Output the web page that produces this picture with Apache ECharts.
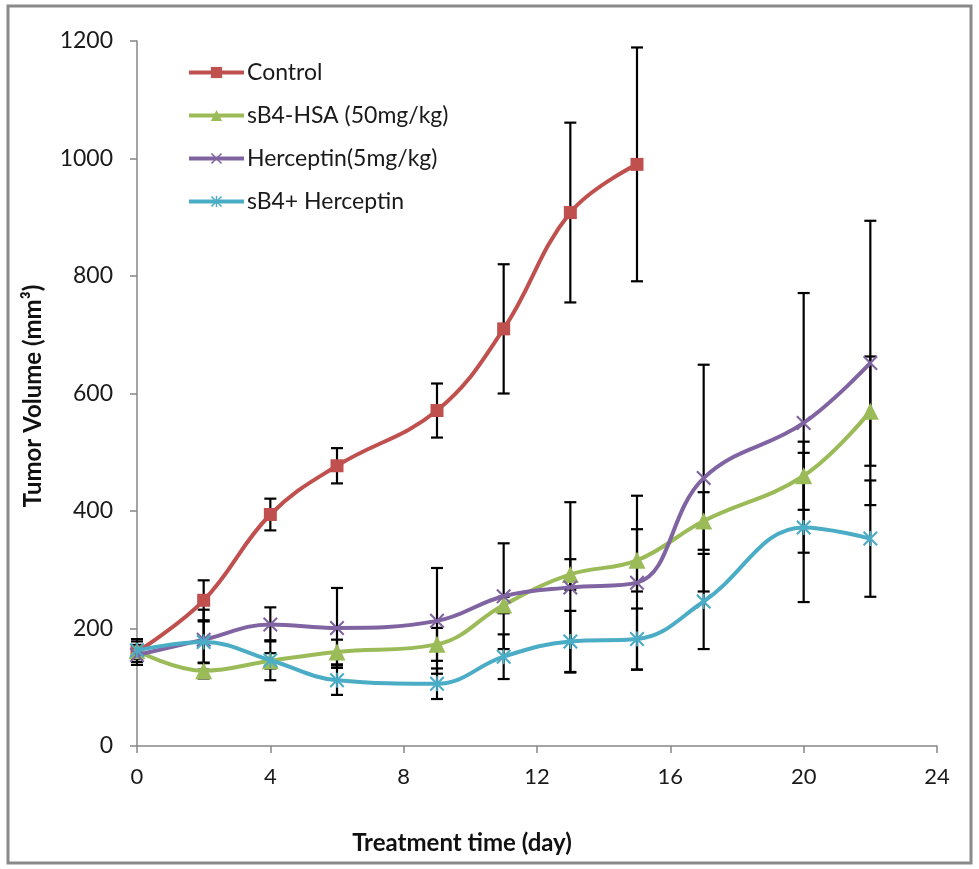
<!DOCTYPE html>
<html>
<head>
<meta charset="utf-8">
<style>
  html, body { margin: 0; padding: 0; background: #ffffff; }
  #chart { width: 979px; height: 869px; }
</style>
<script src="https://cdn.jsdelivr.net/npm/echarts@6/dist/echarts.min.js"></script>
</head>
<body>
<div id="chart"></div>
<script>
// Treatment days (Control measured only up to day 15)
const controlDays = [0, 2, 4, 6, 9, 11, 13, 15];
const treatDays = [0, 2, 4, 6, 9, 11, 13, 15, 17, 20, 22];

// Mean tumor volume (mm³) and error (±)
const controlMean = [160, 248, 394, 477, 571, 710, 908, 990];
const controlErr = [22, 34, 27, 30, 46, 110, 153, 199];

const hsaMean = [162, 128, 145, 160, 173, 240, 292, 316, 383, 460, 570];
const hsaErr = [10, 13, 13, 21, 28, 14, 26, 53, 49, 58, 93];

const hercMean = [155, 181, 207, 201, 213, 255, 270, 278, 456, 550, 652];
const hercErr = [12, 51, 29, 68, 90, 90, 145, 148, 193, 221, 242];

const comboMean = [163, 177, 146, 112, 106, 152, 178, 182, 246, 372, 353];
const comboErr = [15, 35, 34, 25, 26, 38, 52, 52, 81, 127, 99];

const seriesNames = ['Control', 'sB4-HSA (50mg/kg)', 'Herceptin(5mg/kg)', 'sB4+ Herceptin'];
const seriesColors = ['#C0504D', '#9BBB59', '#8064A2', '#4BACC6'];

const xTicks = { min: 0, max: 24, interval: 4 };
const yTicks = { min: 0, max: 1200, interval: 200 };

const FONT = 'Lato, "Open Sans", sans-serif';

// Marker shapes
const xMark = 'path://M1,0 L5,4 L9,0 L10,1 L6,5 L10,9 L9,10 L5,6 L1,10 L0,9 L4,5 L0,1 Z';
const starMark = 'path://M1,0 L5,4 L9,0 L10,1 L6,5 L10,9 L9,10 L5,6 L1,10 L0,9 L4,5 L0,1 Z M4.4,0 L5.6,0 L5.6,10 L4.4,10 Z';
const symbols = ['rect', 'triangle', xMark, starMark];
const symbolSizes = [13, 17, 15, 15];

const groups = [
  { days: controlDays, mean: controlMean, err: controlErr },
  { days: treatDays, mean: hsaMean, err: hsaErr },
  { days: treatDays, mean: hercMean, err: hercErr },
  { days: treatDays, mean: comboMean, err: comboErr }
];

function pairs(days, vals) {
  return days.map((d, i) => [d, vals[i]]);
}
function errRows(days, mean, err) {
  return days.map((d, i) => [d, mean[i] - err[i], mean[i] + err[i]]);
}

function renderErrorBar(params, api) {
  const x = api.value(0);
  const lo = api.coord([x, api.value(1)]);
  const hi = api.coord([x, api.value(2)]);
  const cap = 6;
  const style = { stroke: '#000000', lineWidth: 2.2 };
  return {
    type: 'group',
    children: [
      { type: 'line', shape: { x1: hi[0], y1: hi[1], x2: lo[0], y2: lo[1] }, style },
      { type: 'line', shape: { x1: hi[0] - cap, y1: hi[1], x2: hi[0] + cap, y2: hi[1] }, style },
      { type: 'line', shape: { x1: lo[0] - cap, y1: lo[1], x2: lo[0] + cap, y2: lo[1] }, style }
    ]
  };
}

const series = [];
groups.forEach((g, k) => {
  series.push({
    type: 'custom',
    name: seriesNames[k] + ' error',
    renderItem: renderErrorBar,
    encode: { x: 0, y: [1, 2] },
    data: errRows(g.days, g.mean, g.err),
    z: 1,
    silent: true
  });
});
groups.forEach((g, k) => {
  series.push({
    type: 'line',
    name: seriesNames[k],
    data: pairs(g.days, g.mean),
    smooth: 0.4,
    symbol: symbols[k],
    symbolSize: symbolSizes[k],
    showAllSymbol: true,
    lineStyle: { color: seriesColors[k], width: 4 },
    itemStyle: { color: seriesColors[k] },
    z: 3 + k
  });
});

const chart = echarts.init(document.getElementById('chart'), null, { renderer: 'canvas' });
chart.setOption({
  animation: false,
  backgroundColor: '#ffffff',
  grid: { left: 137, right: 42, top: 41, bottom: 123, containLabel: false },
  legend: {
    data: seriesNames,
    orient: 'vertical',
    left: 182,
    top: 56,
    itemWidth: 55,
    itemHeight: 14,
    itemGap: 20,
    lineStyle: { width: 4 },
    textStyle: { fontFamily: FONT, fontSize: 23, color: '#1a1a1a', padding: [0, 0, 0, -2] }
  },
  xAxis: {
    type: 'value',
    min: xTicks.min,
    max: xTicks.max,
    interval: xTicks.interval,
    axisLine: { show: true, lineStyle: { color: '#878787', width: 1.5 } },
    axisTick: { show: true, inside: false, length: 7, lineStyle: { color: '#878787', width: 1.5 } },
    splitLine: { show: false },
    axisLabel: { fontFamily: FONT, fontSize: 22, color: '#1a1a1a', margin: 20 }
  },
  yAxis: {
    type: 'value',
    min: yTicks.min,
    max: yTicks.max,
    interval: yTicks.interval,
    axisLine: { show: true, lineStyle: { color: '#878787', width: 1.5 } },
    axisTick: { show: true, inside: false, length: 7, lineStyle: { color: '#878787', width: 1.5 } },
    splitLine: { show: false },
    axisLabel: {
      fontFamily: FONT, fontSize: 23, color: '#1a1a1a', margin: 24,
      formatter: (v) => String(v)
    }
  },
  graphic: [
    {
      type: 'rect',
      shape: { x: 8, y: 6, width: 963, height: 857 },
      style: { fill: null, stroke: '#8a8a8a', lineWidth: 3 },
      silent: true,
      z: 0
    },
    {
      type: 'text',
      x: 462, y: 843,
      style: {
        text: 'Treatment time (day)',
        font: 'bold 24px ' + FONT,
        fill: '#111111',
        textAlign: 'center',
        textVerticalAlign: 'middle'
      }
    },
    {
      type: 'text',
      x: 33, y: 396,
      rotation: Math.PI / 2,
      style: {
        text: 'Tumor Volume (mm³)',
        font: 'bold 24px ' + FONT,
        fill: '#111111',
        textAlign: 'center',
        textVerticalAlign: 'middle'
      }
    }
  ],
  series: series
});
</script>
</body>
</html>
